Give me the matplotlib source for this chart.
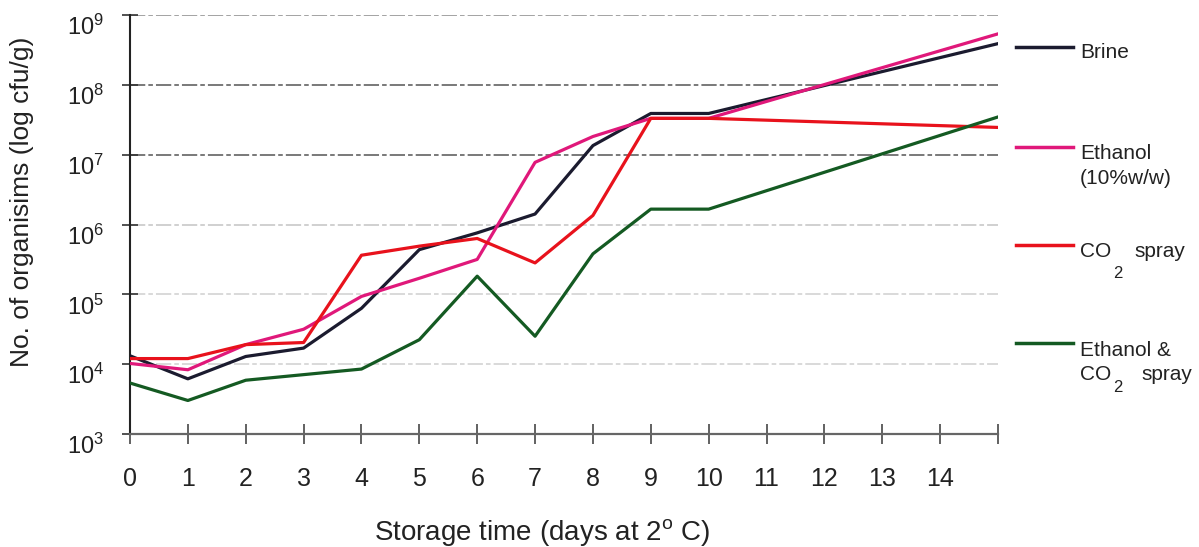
import numpy as np
import matplotlib
matplotlib.use("Agg")
import matplotlib.pyplot as plt
from matplotlib.lines import Line2D
from matplotlib.transforms import ScaledTranslation

plt.rcParams["font.family"] = ["Liberation Sans", "DejaVu Sans"]
plt.rcParams["mathtext.default"] = "regular"

# storage time (days) and log10 counts
days = [0, 1, 2, 3, 4, 5, 6, 7, 8, 9, 10, 15]
brine = [4.12, 3.79, 4.11, 4.23, 4.80, 5.64, 5.88, 6.15, 7.13, 7.59, 7.59, 8.59]
ethanol = [4.01, 3.92, 4.28, 4.50, 4.97, 5.23, 5.50, 6.89, 7.26, 7.52, 7.52, 8.73]
co2 = [4.08, 4.08, 4.28, 4.31, 5.56, 5.69, 5.80, 5.45, 6.13, 7.52, 7.52, 7.39]
eth_co2 = [3.73, 3.48, 3.77, 3.85, 3.93, 4.35, 5.26, 4.40, 5.58, 6.22, 6.22, 7.54]

colors = ["#1b1b2f", "#e0187a", "#e8121c", "#145a22"]
decades = [3, 4, 5, 6, 7, 8, 9]
xtick_labels = [str(d) for d in range(15)] + [""]

W, H = 1199, 547
fig = plt.figure(figsize=(W / 100, H / 100), dpi=100)
ax = fig.add_axes([130 / W, 1 - 434 / H, 868 / W, 419 / H])

# decade grid lines (dash-dot, darker for 10^7 and 10^8)
grid_col = {4: "#cfcfcf", 5: "#cfcfcf", 6: "#c4c4c4", 7: "#555555", 8: "#555555", 9: "#8a8a8a"}
for d in decades[1:]:
    ax.axhline(10.0 ** d, color=grid_col[d], lw=1.1, ls=(0, (10, 2, 3, 2)), zorder=1)

for vals, col in zip([brine, ethanol, co2, eth_co2], colors):
    ax.plot(days, 10.0 ** np.array(vals), color=col, lw=2.3, zorder=3)

ax.set_yscale("log")
ax.set_xlim(0, 15)
ax.set_ylim(1e3, 1e9)
ax.set_yticks([10.0 ** d for d in decades])
ax.set_yticklabels([f"$10^{{{d}}}$" for d in decades], fontsize=17, color="#222222")
shift = ScaledTranslation(0, -5 / 72, fig.dpi_scale_trans)
for lbl in ax.get_yticklabels():
    lbl.set_va("top")
    lbl.set_transform(lbl.get_transform() + shift)
ax.yaxis.set_minor_locator(matplotlib.ticker.NullLocator())
ax.set_xticks(range(16))
ax.set_xticklabels(xtick_labels, fontsize=18, color="#222222")

ax.tick_params(axis="x", direction="inout", length=14, width=1.3, color="#555555", pad=17)
ax.tick_params(axis="y", direction="inout", length=11, width=1.2, color="#333333", pad=13)

for s in ("top", "right"):
    ax.spines[s].set_visible(False)
ax.spines["left"].set_color("#222222")
ax.spines["left"].set_linewidth(1.5)
ax.spines["bottom"].set_color("#666666")
ax.spines["bottom"].set_linewidth(1.6)

ax.set_xlabel("Storage time (days at 2$^{o}$ C)", fontsize=20, color="#222222", va="center")
ax.xaxis.set_label_coords(0.475, -0.236)
ax.set_ylabel("No. of organisims (log cfu/g)", fontsize=19, color="#222222", va="center")
ax.yaxis.set_label_coords(-0.124, 0.554)

# legend keys on the right
key_y = [47, 147, 245, 343]
for col, y in zip(colors, key_y):
    fy = 1 - y / H
    fig.add_artist(Line2D([1016 / W, 1073 / W], [fy, fy], color=col, lw=2.5,
                          transform=fig.transFigure))


def label(x, y, s, size=15):
    fig.text(x / W, 1 - y / H, s, fontsize=size, color="#222222", va="center", ha="left")


label(1080, 52, "Brine")
label(1080, 153, "Ethanol")
label(1080, 178, "(10%w/w)")
label(1080, 251, "CO")
label(1113, 273, "2", 12)
label(1134, 251, "spray")
label(1080, 350, "Ethanol &")
label(1080, 375, "CO")
label(1113, 388, "2", 12)
label(1141, 375, "spray")

fig.savefig("out.png", dpi=100)
